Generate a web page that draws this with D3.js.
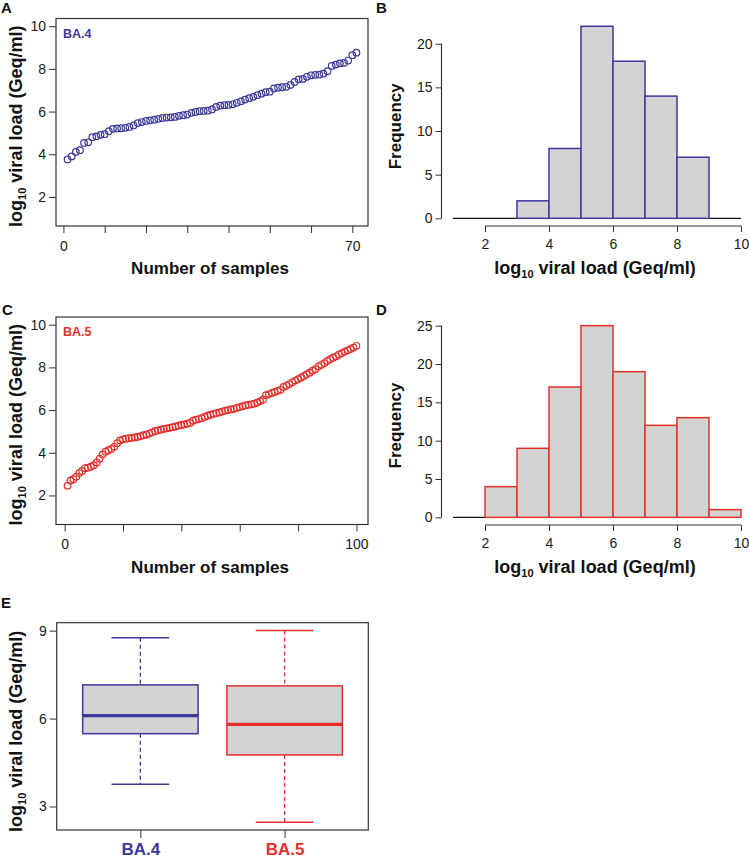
<!DOCTYPE html>
<html><head><meta charset="utf-8">
<script src="https://cdn.jsdelivr.net/npm/d3@7"></script>
<style>body{margin:0;background:#fff}</style>
</head><body><svg id="c" width="749" height="858"></svg>
<script>
// ---------- data (sorted log10 viral loads) ----------
const ba4Values = [3.76,3.90,4.11,4.19,4.53,4.56,4.80,4.84,4.91,4.94,
  5.08,5.19,5.21,5.22,5.24,5.28,5.35,5.46,5.51,5.56,
  5.59,5.62,5.66,5.70,5.72,5.73,5.75,5.80,5.83,5.86,
  5.94,5.98,6.02,6.03,6.04,6.10,6.22,6.28,6.30,6.31,
  6.34,6.41,6.48,6.56,6.63,6.69,6.77,6.84,6.91,6.93,
  7.08,7.12,7.14,7.16,7.25,7.39,7.51,7.53,7.63,7.70,
  7.72,7.73,7.78,7.89,8.14,8.20,8.26,8.28,8.39,8.64,8.76];
const ba5Values = [2.46,2.70,2.76,2.88,3.05,3.15,3.28,3.30,3.35,3.42,
  3.55,3.72,3.92,4.05,4.12,4.18,4.28,4.45,4.58,4.63,
  4.66,4.68,4.70,4.72,4.74,4.78,4.82,4.85,4.90,4.96,
  5.02,5.05,5.08,5.12,5.14,5.17,5.20,5.23,5.27,5.30,
  5.33,5.36,5.40,5.50,5.55,5.58,5.62,5.68,5.74,5.78,
  5.82,5.86,5.89,5.93,5.97,6.00,6.03,6.06,6.10,6.14,
  6.18,6.22,6.25,6.27,6.30,6.35,6.42,6.50,6.70,6.75,
  6.80,6.85,6.90,6.95,7.08,7.15,7.22,7.30,7.38,7.45,
  7.52,7.60,7.68,7.75,7.85,7.92,8.05,8.12,8.20,8.30,
  8.38,8.45,8.52,8.60,8.67,8.74,8.80,8.86,8.93,9.01];
const variants = ["BA.4","BA.5"];
const variantColors = ["#3d389c","#e4312c"];
const scatterYTicks = [2,4,6,8,10];
const ba4XTicks = [0,10,20,30,40,50,60,70];
const ba4XLabels = [0,70];
const ba5XTicks = [0,20,40,60,80,100];
const ba5XLabels = [0,100];
const histBreaks = [1,2,3,4,5,6,7,8,9,10];
const histXTicks = [2,4,6,8,10];
const ba4FreqTicks = [0,5,10,15,20];
const ba5FreqTicks = [0,5,10,15,20,25];
const boxYTicks = [3,6,9];

// ---------- helpers ----------
const FONT = "'Liberation Sans', Arial, sans-serif";
const svg = d3.select("#c");
const FRAME = "#333";

function styleAxis(g, size) {
  g.attr("font-family", FONT).attr("font-size", size || 14);
  g.selectAll("line").attr("stroke", FRAME).attr("stroke-width", 1);
  g.selectAll("text").attr("fill", "#1a1a1a");
}
function frame(x0, x1, y0, y1) {
  svg.append("rect").attr("x", x0).attr("y", y0).attr("width", x1 - x0).attr("height", y1 - y0)
    .attr("fill", "none").attr("stroke", FRAME).attr("stroke-width", 1.2);
}
function letter(t, x, y) {
  svg.append("text").attr("x", x).attr("y", y).attr("font-family", FONT)
    .attr("font-weight", "bold").attr("font-size", 15).attr("fill", "#111").text(t);
}
function logTitle(x, y, rotate) {
  const t = svg.append("text").attr("font-family", FONT).attr("font-weight", "bold")
    .attr("font-size", 18).attr("fill", "#111").attr("text-anchor", "middle");
  if (rotate) t.attr("transform", `translate(${x},${y}) rotate(-90)`);
  else t.attr("x", x).attr("y", y);
  t.append("tspan").text("log");
  t.append("tspan").attr("font-size", 11).attr("dy", 4).text("10");
  t.append("tspan").attr("dy", -4).text(" viral load (Geq/ml)");
}
function plainTitle(txt, x, y, rotate) {
  const t = svg.append("text").attr("font-family", FONT).attr("font-weight", "bold")
    .attr("font-size", 17).attr("fill", "#111").attr("text-anchor", "middle").text(txt);
  if (rotate) t.attr("transform", `translate(${x},${y}) rotate(-90)`);
  else t.attr("x", x).attr("y", y);
}

// ---------- scatter panels (A, C) ----------
function scatterPanel(values, color, name, xTicks, xLabels, box, let_) {
  const n = values.length;
  const ext = 0.04 * (n - 1);
  const x = d3.scaleLinear().domain([1 - ext, n + ext]).range([box.x0, box.x1]);
  const y = d3.scaleLinear().domain([1 - 0.36, 10 + 0.36]).range([box.y1, box.y0]);
  frame(box.x0, box.x1, box.y0, box.y1);
  const gx = svg.append("g").attr("transform", `translate(0,${box.y1})`)
    .call(d3.axisBottom(x).tickValues(xTicks).tickFormat(d => xLabels.includes(d) ? d : "")
      .tickSize(7).tickSizeOuter(0).tickPadding(8));
  gx.select(".domain").remove(); styleAxis(gx);
  const gy = svg.append("g").attr("transform", `translate(${box.x0},0)`)
    .call(d3.axisLeft(y).tickValues(scatterYTicks).tickSize(7).tickSizeOuter(0).tickPadding(3));
  gy.select(".domain").remove(); styleAxis(gy);
  svg.append("g").selectAll("circle").data(values).join("circle")
    .attr("cx", (d, i) => x(i + 1)).attr("cy", d => y(d)).attr("r", 3.3)
    .attr("fill", "none").attr("stroke", color).attr("stroke-width", 1.2);
  svg.append("text").attr("x", box.x0 + 7).attr("y", box.y0 + 19).attr("font-family", FONT)
    .attr("font-weight", "bold").attr("font-size", 12.5).attr("fill", color).text(name);
  logTitle(22, (box.y0 + box.y1) / 2 + 4, true);
  plainTitle("Number of samples", (box.x0 + box.x1) / 2 - 2, box.y1 + 48, false);
  letter(let_[0], let_[1], let_[2]);
}

// ---------- histogram panels (B, D) ----------
function histPanel(values, color, yTicks, box, let_) {
  const bins = d3.bin().domain([histBreaks[0], histBreaks[histBreaks.length - 1]])
    .thresholds(histBreaks.slice(1, -1))(values);
  const ymax = d3.max(bins, b => b.length);
  const x = d3.scaleLinear().domain([1 - 0.36, 10 + 0.36]).range([box.x0, box.x1]);
  const y = d3.scaleLinear().domain([-0.04 * ymax, ymax * 1.04]).range([box.y1, box.y0]);
  svg.append("line").attr("x1", x(histBreaks[0])).attr("x2", x(histBreaks[histBreaks.length - 1]))
    .attr("y1", y(0)).attr("y2", y(0)).attr("stroke", "#111").attr("stroke-width", 1.2);
  svg.append("g").selectAll("rect").data(bins.filter(b => b.length > 0)).join("rect")
    .attr("x", b => x(b.x0)).attr("width", b => x(b.x1) - x(b.x0))
    .attr("y", b => y(b.length)).attr("height", b => y(0) - y(b.length))
    .attr("fill", "#d3d3d3").attr("stroke", color).attr("stroke-width", 1.5);
  const gx = svg.append("g").attr("transform", `translate(0,${box.y1})`)
    .call(d3.axisBottom(x).tickValues(histXTicks).tickSize(6).tickSizeOuter(0).tickPadding(7));
  gx.select(".domain").attr("d", `M${x(histXTicks[0])},0H${x(histXTicks[histXTicks.length - 1])}`)
    .attr("stroke", FRAME).attr("stroke-width", 1.2);
  styleAxis(gx);
  const gy = svg.append("g").attr("transform", `translate(${box.x0},0)`)
    .call(d3.axisLeft(y).tickValues(yTicks).tickSize(6).tickSizeOuter(0).tickPadding(3));
  gy.select(".domain").attr("d", `M0,${y(yTicks[0])}V${y(yTicks[yTicks.length - 1])}`)
    .attr("stroke", FRAME).attr("stroke-width", 1.2);
  styleAxis(gy);
  plainTitle("Frequency", box.x0 - 41, (box.y0 + box.y1) / 2 + 4, true);
  logTitle((box.x0 + box.x1) / 2 - 2, box.y1 + 48, false);
  letter(let_[0], let_[1], let_[2]);
}

scatterPanel(ba4Values, variantColors[0], variants[0], ba4XTicks, ba4XLabels,
  {x0: 56, x1: 368, y0: 18.5, y1: 226}, ["A", 1, 13]);
scatterPanel(ba5Values, variantColors[1], variants[1], ba5XTicks, ba5XLabels,
  {x0: 56, x1: 368, y0: 317, y1: 524.5}, ["C", 2, 315]);
histPanel(ba4Values, variantColors[0], ba4FreqTicks, {x0: 441.5, x1: 752.5, y0: 18.6, y1: 226}, ["B", 376, 13]);
histPanel(ba5Values, variantColors[1], ba5FreqTicks, {x0: 441.5, x1: 752.5, y0: 318, y1: 525}, ["D", 376, 315]);

// ---------- box plot (E) ----------
(function () {
  const box = {x0: 56.7, x1: 368.3, y0: 622.7, y1: 830};
  const sets = [ba4Values, ba5Values];
  function fivenum(v) {
    const s = v.slice().sort((a, b) => a - b), n = s.length;
    const n4 = Math.floor((n + 3) / 2) / 2;
    const d = [1, n4, (n + 1) / 2, n + 1 - n4, n];
    return d.map(p => 0.5 * (s[Math.floor(p) - 1] + s[Math.ceil(p) - 1]));
  }
  const all = d3.extent(ba4Values.concat(ba5Values));
  const r = all[1] - all[0];
  const x = d3.scaleLinear().domain([1 - 0.58, 2 + 0.58]).range([box.x0, box.x1]);
  const y = d3.scaleLinear().domain([all[0] - 0.04 * r, all[1] + 0.04 * r]).range([box.y1, box.y0]);
  frame(box.x0, box.x1, box.y0, box.y1);
  sets.forEach((v, i) => {
    const f = fivenum(v), cx = x(i + 1), col = variantColors[i];
    const hw = x(1.4) - x(1), sw = x(1.2) - x(1);
    const g = svg.append("g");
    g.append("line").attr("x1", cx).attr("x2", cx).attr("y1", y(f[4])).attr("y2", y(f[3]))
      .attr("stroke", col).attr("stroke-width", 1.3).attr("stroke-dasharray", "4,3");
    g.append("line").attr("x1", cx).attr("x2", cx).attr("y1", y(f[1])).attr("y2", y(f[0]))
      .attr("stroke", col).attr("stroke-width", 1.3).attr("stroke-dasharray", "4,3");
    [f[0], f[4]].forEach(w => g.append("line").attr("x1", cx - sw).attr("x2", cx + sw)
      .attr("y1", y(w)).attr("y2", y(w)).attr("stroke", col).attr("stroke-width", 1.5));
    g.append("rect").attr("x", cx - hw).attr("width", 2 * hw).attr("y", y(f[3]))
      .attr("height", y(f[1]) - y(f[3])).attr("fill", "#d3d3d3").attr("stroke", col).attr("stroke-width", 1.5);
    g.append("line").attr("x1", cx - hw).attr("x2", cx + hw).attr("y1", y(f[2])).attr("y2", y(f[2]))
      .attr("stroke", col).attr("stroke-width", 3.2);
  });
  const gx = svg.append("g").attr("transform", `translate(0,${box.y1})`)
    .call(d3.axisBottom(x).tickValues([1, 2]).tickFormat((d, i) => variants[i]).tickSize(8).tickSizeOuter(0).tickPadding(5));
  gx.select(".domain").remove(); styleAxis(gx, 17);
  gx.selectAll("text").attr("font-weight", "bold").attr("fill", (d, i) => variantColors[i]);
  const gy = svg.append("g").attr("transform", `translate(${box.x0},0)`)
    .call(d3.axisLeft(y).tickValues(boxYTicks).tickSize(7).tickSizeOuter(0).tickPadding(3));
  gy.select(".domain").remove(); styleAxis(gy);
  logTitle(22, (box.y0 + box.y1) / 2 + 5, true);
  letter("E", 1, 608);
})();
</script></body></html>
